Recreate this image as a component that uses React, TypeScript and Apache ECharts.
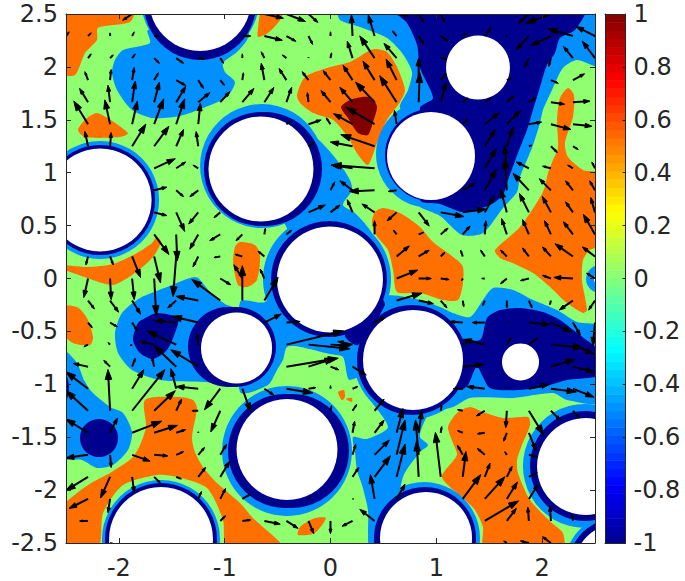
import React, { useEffect, useRef } from "react";
import * as echarts from "echarts";

const xTicks = [-2, -1, 0, 1, 2];
const NAVY = "#00008f";
const BLUE = "#0090ff";
const GREEN = "#8fff70";
const ORANGE = "#ff7000";
const MAROON = "#800000";

const orangeRegions = [
  [[-2.557,2.538],[-1.857,2.538],[-1.895,2.424],[-2.198,2.368],[-2.207,2.254],[-2.32,2.131],[-2.415,1.923],[-2.557,1.942]],
  [[-2.198,1.564],[-1.914,1.375],[-1.99,1.337],[-2.32,1.337],[-2.387,1.404],[-2.302,1.517]],
  [[-2.557,.128],[-2.3,.109],[-2.056,.137],[-1.829,.241],[-1.687,.336],[-1.64,.392],[-1.602,.345],[-1.678,.203],[-1.848,.052],[-2.056,-.061],[-2.3,.005],[-2.557,.099]],
  [[-2.557,-.269],[-2.396,-.269],[-2.302,-.373],[-2.245,-.553],[-2.273,-.629],[-2.434,-.61],[-2.557,-.487]],
  [[-.855,.345],[-.714,.317],[-.666,.222],[-.695,-.014],[-.789,-.08],[-.874,-.061],[-.92,.146],[-.903,.298]],
  [[.421,2.169],[.534,2.141],[.629,1.999],[.704,1.782],[.657,1.668],[.534,1.498],[.449,1.309],[.354,1.073],[.25,1.186],[.165,1.337],[.024,1.498],[-.165,1.564],[-.288,1.659],[-.317,1.734],[-.241,1.905],[-.033,1.99],[.184,2.046],[.345,2.141]],
  [[-.647,2.538],[-.449,2.538],[-.477,2.443],[-.591,2.32],[-.685,2.283],[-.685,2.368]],
  [[.496,.666],[.657,.619],[.846,.487],[.969,.345],[1.243,.128],[1.252,-.043],[1.205,-.203],[1.063,-.203],[.846,-.137],[.629,-.128],[.591,.08],[.543,.269],[.43,.411],[.392,.534],[.421,.629]],
  [[2.245,1.801],[2.301,1.734],[2.292,1.526],[2.216,1.281],[2.245,1.148],[2.387,1.026],[2.547,.988],[2.547,.317],[2.453,.269],[2.387,.175],[2.377,-.014],[2.424,-.298],[2.387,-.326],[2.235,-.232],[2.075,-.08],[1.914,.052],[1.697,.156],[1.602,.194],[1.555,.269],[1.791,.487],[2.008,.818],[2.056,.997],[2.103,1.12],[2.15,1.233],[2.141,1.498],[2.169,1.706]],
  [[-1.753,-1.148],[-1.441,-1.12],[-1.3,-1.148],[-1.262,-1.224],[-1.309,-1.498],[-1.281,-1.64],[-1.205,-1.782],[-1.073,-1.933],[-.855,-2.122],[-.733,-2.264],[-.449,-2.547],[-.978,-2.547],[-1.016,-2.283],[-1.167,-1.98],[-1.451,-1.876],[-1.64,-1.857],[-1.961,-1.952],[-2.15,-2.216],[-2.198,-2.547],[-2.557,-2.547],[-2.557,-2.188],[-2.396,-2.027],[-2.245,-1.923],[-2.084,-1.838],[-1.876,-1.697],[-1.8,-1.574],[-1.744,-1.404]],
  [[-.307,-2.424],[-.288,-2.349],[-.147,-2.264],[-.043,-2.264],[-.147,-2.405]],
  [[.071,-1.074],[.127,-1.055],[.137,-1.121],[.109,-1.15]],
  [[.147,-1.139],[.203,-1.129],[.203,-1.167]],
  [[1.319,-1.215],[1.441,-1.262],[1.63,-1.318],[1.867,-1.309],[1.886,-1.385],[1.81,-1.574],[1.763,-1.715],[1.772,-1.838],[1.886,-2.093],[2.093,-2.311],[2.197,-2.405],[2.197,-2.547],[1.451,-2.547],[1.441,-2.349],[1.366,-2.188],[1.252,-2.075],[1.054,-1.876],[1.195,-1.668],[1.158,-1.555],[1.111,-1.404],[1.195,-1.271]],
];
const maroonRegions = [
  [[.298,1.716],[.392,1.706],[.44,1.621],[.402,1.479],[.354,1.356],[.26,1.375],[.165,1.517],[.099,1.621],[.184,1.687]],
];
const blueRegions = [
  [[-1.725,2.349],[-1.706,2.226],[-1.961,2.16],[-2.037,2.065],[-2.065,1.942],[-2.018,1.782],[-1.876,1.593],[-1.678,1.517],[-1.422,1.536],[-1.205,1.611],[-.978,1.715],[-.903,1.857],[-.997,1.952],[-1.016,2.037],[-.884,2.141],[-.789,2.254],[-.78,2.349]],
  [[-1.252,.005],[-1.139,-.128],[-.997,-.241],[-.884,-.298],[-.884,-1.007],[-1.186,-.978],[-1.612,-.959],[-1.876,-.865],[-2.008,-.704],[-2.037,-.515],[-1.971,-.326],[-1.8,-.184],[-1.545,-.08],[-1.328,.005]],
  [[-2.557,-.657],[-2.51,-.676],[-2.396,-.799],[-2.33,-.959],[-2.254,-1.073],[-2.084,-1.214],[-1.961,-1.271],[-1.876,-1.451],[-1.914,-1.621],[-2.056,-1.763],[-2.207,-1.791],[-2.349,-1.716],[-2.557,-1.687]],
  [[.071,2.557],[.09,2.443],[.279,2.377],[.534,2.273],[.676,2.131],[.77,1.952],[.733,1.782],[.657,1.612],[.893,1.404],[.893,.695],[.846,.676],[1.035,.591],[1.243,.411],[1.441,.43],[1.63,.666],[1.763,.818],[1.791,.959],[1.904,1.233],[1.98,1.47],[2.008,1.593],[2.094,1.782],[2.197,1.99],[2.33,2.065],[2.547,2.008],[2.547,2.557]],
  [[-.383,1.526],[-.194,1.375],[-.08,1.281],[.061,1.12],[.184,.931],[.203,.836],[.118,.695],[.232,.619],[.392,.43],[.496,.147],[.562,-.061],[.09,.08],[-.288,.269],[-.572,.931]],
  [[-.855,-.222],[-.619,-.222],[-.288,.08],[.515,-.175],[.61,-.676],[.184,-.959],[.118,-.742],[-.005,-.714],[-.288,-.647],[-.411,-.647],[-.449,-.77],[-.506,-.865],[-.591,-1.007],[-.855,-1.073]],
  [[.515,-.175],[.846,-.203],[1.035,-.269],[1.158,-.326],[1.319,-.364],[1.441,-.203],[1.536,-.09],[1.725,-.109],[1.914,-.203],[2.141,-.298],[2.33,-.411],[2.547,-.458],[2.547,-1.167],[2.235,-1.148],[2.103,-1.082],[1.725,-1.129],[1.319,-1.129],[1.158,-1.215],[.94,-1.271],[.874,-1.385],[.846,-1.498],[.922,-1.574],[.846,-1.64],[.685,-1.876],[.562,-2.519],[.373,-2.519],[.354,-2.188],[.298,-1.952],[.25,-1.81],[.232,-1.649],[.213,-1.498],[.345,-1.517],[.543,-1.404],[.354,-1.12],[.232,-.865],[.515,-.581]],
];
const navyRegions = [
  [[-1.64,-.326],[-1.441,-.373],[-1.47,-.515],[-1.545,-.676],[-1.678,-.761],[-1.8,-.704],[-1.867,-.581],[-1.82,-.421],[-1.734,-.364]],
  [[.581,2.557],[2.405,2.557],[2.311,2.349],[2.169,2.273],[2.122,2.131],[2.046,2.018],[1.98,1.81],[1.914,1.593],[1.857,1.404],[1.772,1.186],[1.678,.931],[1.63,.789],[1.508,.695],[1.252,.629],[1.035,.704],[.846,.742],[.846,1.612],[.969,1.706],[.846,1.99],[.818,2.207],[.723,2.415]],
  [[1.129,-.581],[1.413,-.581],[1.479,-.373],[1.602,-.298],[1.791,-.279],[2.008,-.317],[2.169,-.392],[2.33,-.515],[2.547,-.695],[2.547,-.912],[2.235,-.959],[2.008,-1.026],[1.791,-1.054],[1.508,-1.035],[1.385,-.836],[1.3,-1.007],[1.224,-1.054],[1.129,-.959]],
  [[.137,-.534],[.26,-.629],[.515,-.25],[.468,-.175]],
];
// discs: centre x, centre y, radius
const blueDiscs = [
  [-1.233,2.632,.558],[-.647,1.063,.586],[-2.178,.742,.558],[-.033,-.005,.605],[.94,1.177,.51],
  [.78,-.77,.558],[-.411,-1.63,.614],[-1.602,-2.462,.558],[.884,-2.453,.529],[2.405,-1.772,.586],
  [2.689,-2.708,.473],[2.547,-.005,.132],
];
const navyDiscs = [
  [-1.233,2.595,.529],[-.657,1.035,.539],[-.619,1.035,.539],[-2.178,.742,.52],[-.014,-.005,.548],[.95,1.167,.435],
  [-.893,-.647,.378],[-.969,-.647,.378],[.77,-.77,.52],[-.43,-1.63,.539],[-.364,-1.63,.539],[-1.602,-2.462,.529],
  [.893,-2.453,.482],[2.405,-1.772,.52],[2.689,-2.708,.435],[-2.188,-1.508,.18],[-2.784,-1.035,.312],
];
const whiteDiscs = [
  [-1.233,2.632,.482],[-.657,1.035,.496],[-2.178,.742,.487],[-.005,-.009,.501],[.95,1.158,.416],
  [1.394,1.994,.302],[-.888,-.657,.336],[.78,-.77,.473],[1.796,-.789,.175],[-.411,-1.616,.477],
  [-1.602,-2.462,.491],[.903,-2.453,.435],[2.41,-1.777,.458],[2.689,-2.708,.378],[2.547,-.005,.057],
];

// quiver: grid column, grid row (spacing 5/24 from the top-left corner), u, v in hundredths
const arrows = [
  [1,5,-13.5,22],[2,5,-5,23],[3,5,5,22],[4,5,9,24],[5,5,8,24],[6,5,2,20],[1,6,-3,14],[2,6,1,13],[3,6,13,21],[4,6,14,19],[5,6,7,16],[6,6,-2,14],
  [1,4,-8,13],[2,4,-2,16],[3,4,3,20],[4,4,5,19],[5,4,9,15],[6,4,11,9],[7,4,9,10],[8,4,11,13],[1,3,-3,8],[2,3,1,10],[3,3,2,12],[4,3,4,7],[5,3,9,-5],[6,3,5,-8],[7,3,4,-5],[8,3,1,7],
  [1,2,3,4],[2,2,3,3],[3,2,3,4],[4,2,5,-5],[5,2,7,-5],[6,2,6,-1],[7,2,3,-5],[8,2,0,4],[0,2,-1,3],[0,1,3,4],[1,1,3,3],[2,1,0,3],[3,1,2,4],[3,0,-9,-6],[4,1,5,0],[8,1,8,0],
  [4,7,20,9],[5,7,9,6],[6,7,-5,3],[4,8,12,3],[5,8,7,-6],[6,8,-8,-6],
  [9,4,9,14],[10,4,5,14],[11,4,-1,9],[12,4,-9,11],[13,4,-12,14],[14,4,-18,19],[15,4,-16,25],[14,5,-27,16],[13,5,-18,10],[12,5,-4,6],[11,5,12,4],[10,5,4,3],
  [9,3,-3,16],[10,3,-7,11],[11,3,-6,8],[12,3,-7,9],[13,3,-9,14],[14,3,-11,18],[15,3,-10,20],[16,4,1,28],[16,3,0,21],[15,5,-2,13],[14,6,-32,11],[13,6,-21,4],[11,6,6,4],
  [14,7,-41,3],[13,7,-20,3],[14,8,-24,-1],[13,8,-12,9],[12,8,4,8],[15,8,-8,-1],[9,0,18,-4],[10,0,18,-7],[11,0,9,-8],[12,0,6,0],[9,1,17,-4],[10,1,9,-5],[11,1,4,-8],[12,1,0,4],
  [13,2,-5,16],[14,2,-14,21],[15,2,-12,14],[13,1,-1,20],[14,1,-6,20],[15,1,-4,5],[10,2,-4,3],[11,2,0,1],[12,2,1,5],[9,2,-3,6],[16,1,5,-8],[16,0,5,-8],[15,0,11,-2],
  [19,8,11,20],[19,7,11,19],[19,6,10,16],[19,5,14,11],[20,5,13,13],[20,7,-2,22],[20,8,-2,30],[18,8,12,7],[20,6,6,18],[21,5,12,2],[22,5,19,-5],[23,5,18,-2],[22,4,13,-2],[23,4,16,1],[22,3,7,-3],[23,3,11,6],
  [21,6,3,1],[22,6,6,-6],[23,6,5,-3],[21,7,-12,6],[22,7,-8,2],[23,7,-5,3],[24,7,-3,6],[21,8,-15,16],[22,8,-11,11],[23,8,-7,9],[24,8,-5,9],[23,1,-24,7],[24,1,-18,9],[23,2,-9,11],[24,2,-12,16],
  [22,0,-24,-9],[22,1,-19,-9],[21,1,-12,-13],[20,1,-2,0],[19,1,6,8],[18,1,5,3],[17,1,7,-5],[17,0,4,-8],[21,0,-10,-9],[21,2,-4,-9],[22,2,-2,-8],[20,3,5,2],[17,3,5,6],[17,4,5,19],[18,4,5,4],[19,4,6,4],[20,4,7,6],[21,4,7,4],[18,5,5,5],[17,2,6,-1],
  [1,11,-2,-8],[2,11,3,-8],[3,11,8,-20],[4,11,6,-25],[5,10,1,-25],[4,10,14,-19],[5,9,8,-18],[4,9,12,-3],[6,9,-9,-11],[7,9,-6,-5],[6,10,-8,-14],[7,10,-10,-6],[8,10,-6,-6],[6,11,-5,-10],[7,11,-6,-1],[8,11,-7,2],
  [1,12,-4,-18],[2,12,1,-20],[3,12,2,-20],[4,12,2,-35],[5,11,-3,-38],[6,13,-21,4],[7,13,-27,20],[8,13,0,33],[8,12,-8,13],[1,13,6,-8],[2,13,8,-11],[3,13,8,-13],[5,13,-8,-7],[6,14,-25,6],[5,14,-21,2],[5,15,-28,13],[4,15,-14,3],[6,16,-26,16],[5,16,-21,20],[3,15,-2,-1],
  [2,14,7,-4],[3,14,5,-8],[1,14,4,-5],[2,15,-2,2],[1,15,-4,-2],[1,16,-14,3],[2,16,-6,6],[3,16,3,8],[4,16,-2,9],[6,15,-1,11],[7,12,10,-6],
  [11,9,16,7],[12,9,9,7],[13,9,-5,12],[14,9,-12,8],[9,10,1,6],[10,10,5,4],[9,13,13,22],[9,14,16,8],[10,14,13,1],[14,10,0,13],[15,11,12,10],[15,12,20,8],[15,13,24,7],[16,12,12,0],[16,11,10,6],[16,10,5,2],[15,10,-3,4],[15,9,-9,-8],[16,9,10,-13],[14,14,10,5],
  [10,15,54,13],[11,15,39,-4],[12,15,19,-1],[13,15,-14,3],[10,16,49,8],[11,16,25,8],[12,16,8,-3],[13,16,13,-8],[9,12,-4,9],[9,11,-6,5],
  [17,9,22,-4],[18,9,22,3],[19,9,9,16],[20,9,-6,22],[21,9,-9,18],[17,10,7,6],[18,10,7,8],[19,10,1,13],[20,10,-5,15],[21,10,-6,14],[22,10,-6,13],[23,10,-9,12],[24,10,-11,19],[22,9,-8,15],[23,9,-7,10],[24,9,-4,14],
  [17,11,4,4],[18,11,-2,6],[19,11,-4,6],[20,11,-6,6],[21,11,-6,8],[22,11,-8,9],[23,11,-17,12],[24,11,-12,9],[17,12,8,-1],[18,12,-1,-2],[19,12,-3,0],[20,12,-6,-5],[21,12,-8,-2],[22,12,-8,3],[23,12,-18,1],[24,12,-8,5],
  [17,13,6,-7],[16,13,14,-3],[18,13,1,-6],[19,13,-2,-5],[20,13,0,-7],[21,13,3,-7],[22,13,-1,-4],[23,13,-13,-9],[24,13,-6,-9],[18,14,-12,1],[19,14,-12,0],[20,14,1,0],[21,14,20,-2],[22,14,20,-9],[23,14,7,-12],[24,14,-2,-22],
  [21,15,8,6],[20,15,4,7],[19,15,-20,5],[18,15,5,3],[22,15,31,-3],[23,15,20,-9],[18,16,20,2],[22,16,23,7],[23,16,20,-5],
  [1,17,-21,16],[1,18,-21,19],[1,19,-21,13],[1,20,-21,-3],[2,18,-2,39],[3,17,11,18],[4,18,20,19],[3,18,31,39],[5,17,-5,19],[6,17,-21,2],[7,17,-15,-20],[6,18,-6,0],[5,18,5,11],[2,19,7,14],[3,19,28,11],[4,19,22,7],[5,19,9,3],[6,19,0,1],[7,18,-9,-20],[8,17,8,-22],[7,20,6,10],
  [2,20,1,-12],[3,20,17,-6],[4,20,13,-1],[5,20,7,3],[6,20,6,7],[7,21,9,15],[1,21,-21,-13],[2,21,-9,-20],[3,21,2,-15],[4,21,6,-6],[5,21,5,-2],[6,21,7,9],[1,22,-18,-9],[2,22,-2,-13],[6,22,3,7],[7,22,5,10],[1,23,-8,0],[7,23,5,5],[8,23,8,1],[8,22,7,4],[2,24,4,-1],
  [9,17,9,-6],[10,17,25,-4],[11,17,7,1],[12,17,0,3],[13,17,5,2],[14,18,9,11],[13,18,4,6],[12,18,1,5],[11,18,5,4],[12,19,9,11],[13,19,2,11],[14,19,9,12],[15,19,6,23],[16,19,3,21],[15,20,8,33],[16,20,-3,33],[13,20,3,10],[14,20,14,14],[15,21,8,31],[16,21,-2,34],[13,21,6,9],[14,22,-4,23],[14,21,15,20],[15,22,8,14],[13,22,1,0],[14,23,-14,11],
  [9,23,15,-3],[10,23,11,-7],[11,23,5,-12],[12,23,0,-12],[13,23,-10,-5],[11,22,2,2],
  [17,21,-5,42],[18,21,3,24],[19,21,5,13],[20,21,5,10],[18,22,17,23],[19,22,19,21],[20,22,10,16],[19,23,32,19],[20,23,9,12],[21,23,-1,13],[22,23,-1,14],[21,22,9,14],[21,21,8,4],[21,20,8,-2],[21,19,7,-17],[21,18,14,-23],[22,18,9,-9],[23,18,6,-7],[20,18,-1,-16],[20,19,-3,-8],[19,18,-8,-5],[18,18,-5,1],[17,18,1,5],[17,19,1,6],[18,19,-5,2],[19,19,-7,-1],[19,20,-7,6],[20,20,-2,3],[18,20,-5,9],
  [18,17,-9,0],[19,17,-17,2],[22,17,24,-3],[23,17,20,-8],[21,17,19,4],[20,17,1,0],[21,24,-8,2],[22,24,-8,6],[20,24,-3,2],[23,23,-1,6],
];

const jetStops: [number, number[]][] = [
  [0, [0, 0, 143]], [0.11, [0, 0, 255]], [0.365, [0, 255, 255]], [0.625, [255, 255, 0]], [0.875, [255, 0, 0]], [1, [128, 0, 0]],
];
const colorbarLevels = 64;

function jet(t: number) {
  for (let k = 1; k < jetStops.length; k++) {
    const [b, cb] = jetStops[k];
    const [a, ca] = jetStops[k - 1];
    if (t <= b) {
      const f = (t - a) / (b - a);
      return `rgb(${ca.map((c, n) => Math.round(c + (cb[n] - c) * f)).join(",")})`;
    }
  }
  return "rgb(128,0,0)";
}

const polySeries = (polys: number[][][], color: string) => ({
  type: "custom",
  xAxisIndex: 0,
  yAxisIndex: 0,
  clip: true,
  silent: true,
  z: 2,
  data: polys.map((_, i) => [i]),
  renderItem: (params: any, api: any) => ({
    type: "polygon",
    shape: { points: polys[params.dataIndex].map((p) => api.coord(p)), smooth: 0.25 },
    style: { fill: color },
  }),
});
const discSeries = (discs: number[][], color: string) => ({
  type: "custom",
  xAxisIndex: 0,
  yAxisIndex: 0,
  clip: true,
  silent: true,
  z: 2,
  data: discs.map((_, i) => [i]),
  renderItem: (params: any, api: any) => {
    const [x, y, r] = discs[params.dataIndex];
    const c = api.coord([x, y]);
    return { type: "circle", shape: { cx: c[0], cy: c[1], r: api.size([r, 0])[0] }, style: { fill: color } };
  },
});
const arrowData = arrows
  .map(([i, j, u, v]) => [-2.5 + (i * 5) / 24, 2.5 - (j * 5) / 24, u / 100, v / 100])
  .filter(([x, y]) => !whiteDiscs.some(([cx, cy, r]) => Math.hypot(x - cx, y - cy) < r - 0.01));
const quiverSeries = {
  type: "custom",
  xAxisIndex: 0,
  yAxisIndex: 0,
  clip: true,
  silent: true,
  z: 3,
  data: arrowData,
  encode: { x: 0, y: 1 },
  renderItem: (_: any, api: any) => {
    const x = api.value(0), y = api.value(1), u = api.value(2), v = api.value(3);
    const a = api.coord([x, y]);
    const b = api.coord([x + u, y + v]);
    const dx = b[0] - a[0], dy = b[1] - a[1];
    const len = Math.hypot(dx, dy) || 1;
    const ux = dx / len, uy = dy / len;
    const head = Math.min(len * 0.36, 10);
    const hw = head * 0.33;
    const bx = b[0] - ux * head, by = b[1] - uy * head;
    return {
      type: "group",
      children: [
        { type: "line", shape: { x1: a[0], y1: a[1], x2: bx, y2: by }, style: { stroke: "#000", lineWidth: 2 } },
        { type: "polygon", shape: { points: [b, [bx - uy * hw, by + ux * hw], [bx + uy * hw, by - ux * hw]] }, style: { fill: "#000", stroke: "#000", lineWidth: 1 } },
      ],
    };
  },
};
const colorbarSeries = {
  type: "custom",
  xAxisIndex: 2,
  yAxisIndex: 2,
  silent: true,
  z: 2,
  data: Array.from({ length: colorbarLevels }, (_, i) => [i]),
  renderItem: (params: any, api: any) => {
    const i = params.dataIndex;
    const lo = -1 + (2 * i) / colorbarLevels;
    const hi = -1 + (2 * (i + 1)) / colorbarLevels;
    const p0 = api.coord([0, hi]);
    const p1 = api.coord([1, lo]);
    return {
      type: "rect",
      shape: { x: p0[0], y: p0[1], width: p1[0] - p0[0], height: p1[1] - p0[1] + 0.5 },
      style: { fill: jet((i + 0.5) / colorbarLevels) },
    };
  },
};

const INK = "#262626";
const line = { show: true, onZero: false, lineStyle: { color: INK, width: 1 } };
const tick = { show: true, inside: true, length: 5, lineStyle: { color: INK, width: 1 } };
const label = { color: INK, fontFamily: "DejaVu Sans", fontSize: 24 };

export default function App() {
  const ref = useRef<HTMLDivElement>(null);
  useEffect(() => {
    document.body.style.margin = "0";
    const chart = echarts.init(ref.current!, undefined, { renderer: "svg" });
    chart.setOption({
      animation: false,
      backgroundColor: "#fff",
      grid: [
        { left: 66, top: 14, width: 529, height: 529, show: true, backgroundColor: GREEN, borderWidth: 0 },
        { left: 605, top: 14, width: 20.5, height: 529, show: false },
      ],
      xAxis: [
        { type: "value", gridIndex: 0, min: -2.5, max: 2.5, position: "bottom", z: 10, splitLine: { show: false }, axisLine: line,
          axisTick: { ...tick, customValues: xTicks }, axisLabel: { ...label, margin: 13, customValues: xTicks } },
        { type: "value", gridIndex: 0, min: -2.5, max: 2.5, position: "top", z: 10, splitLine: { show: false }, axisLine: line,
          axisTick: { ...tick, customValues: xTicks }, axisLabel: { show: false } },
        { type: "value", gridIndex: 1, min: 0, max: 1, position: "bottom", z: 10, splitLine: { show: false }, axisLine: line, axisTick: { show: false }, axisLabel: { show: false } },
        { type: "value", gridIndex: 1, min: 0, max: 1, position: "top", z: 10, splitLine: { show: false }, axisLine: line, axisTick: { show: false }, axisLabel: { show: false } },
      ],
      yAxis: [
        { type: "value", gridIndex: 0, min: -2.5, max: 2.5, interval: 0.5, position: "left", z: 10, splitLine: { show: false }, axisLine: line, axisTick: tick, axisLabel: { ...label, margin: 8 } },
        { type: "value", gridIndex: 0, min: -2.5, max: 2.5, interval: 0.5, position: "right", z: 10, splitLine: { show: false }, axisLine: line, axisTick: tick, axisLabel: { show: false } },
        { type: "value", gridIndex: 1, min: -1, max: 1, interval: 0.2, position: "right", z: 10, splitLine: { show: false }, axisLine: line, axisTick: { ...tick, length: 3 }, axisLabel: { ...label, margin: 8 } },
        { type: "value", gridIndex: 1, min: -1, max: 1, interval: 0.2, position: "left", z: 10, splitLine: { show: false }, axisLine: line, axisTick: { show: false }, axisLabel: { show: false } },
      ],
      series: [
        polySeries(orangeRegions, ORANGE),
        polySeries(maroonRegions, MAROON),
        polySeries(blueRegions, BLUE),
        discSeries(blueDiscs, BLUE),
        polySeries(navyRegions, NAVY),
        discSeries(navyDiscs, NAVY),
        discSeries(whiteDiscs, "#ffffff"),
        quiverSeries,
        colorbarSeries,
      ],
    });
    return () => chart.dispose();
  }, []);
  return <div ref={ref} style={{ position: "absolute", left: 0, top: 0, width: 685, height: 581 }} />;
}
